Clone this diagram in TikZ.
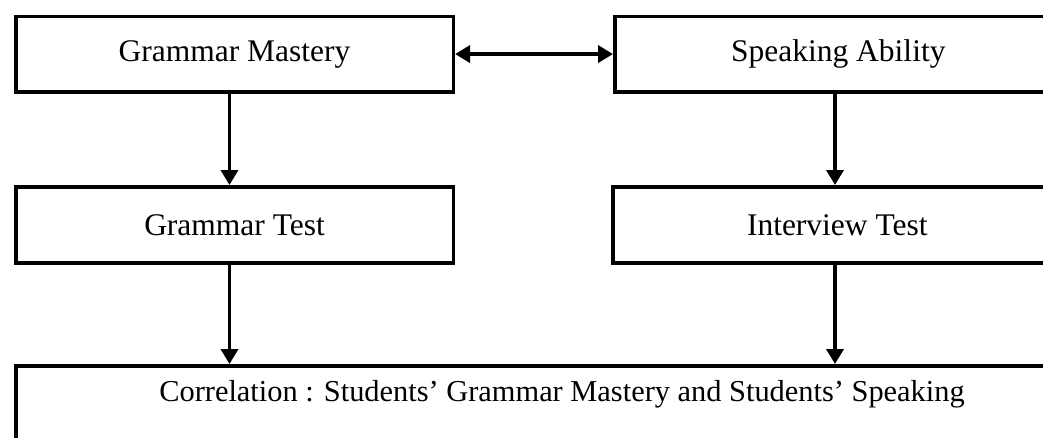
\documentclass[tikz,border=0pt]{standalone}
\usepackage{fontspec}
\setmainfont{Liberation Serif}
\usetikzlibrary{arrows.meta}
\begin{document}
\begin{tikzpicture}[x=1pt,y=-1pt,
  box/.style={draw=black,line width=3.6pt,rectangle,inner sep=0pt,font=\fontsize{31.5}{36}\selectfont},
  tip/.style={},
  conn/.style={line width=3.6pt,-{Triangle[length=15pt,width=17pt]}},
  conn2/.style={line width=3.6pt,{Triangle[length=15pt,width=17pt]}-{Triangle[length=15pt,width=17pt]}}]
\useasboundingbox (0,0) rectangle (1043,437);
\node[box,anchor=north west,minimum width=437.5pt,minimum height=75.5pt] (gm) at (14,14.5) {Grammar Mastery};
\node[box,anchor=north west,minimum width=447pt,minimum height=75.5pt] (sa) at (613,14.5) {Speaking Ability};
\node[box,anchor=north west,minimum width=437.5pt,minimum height=76pt] (gt) at (14,185) {Grammar Test};
\node[box,anchor=north west,minimum width=449pt,minimum height=76pt] (it) at (611,185) {Interview Test};
\node[box,anchor=north west,minimum width=1100pt,minimum height=120pt] (corr) at (14,364) {};
\node[font=\fontsize{30.4}{36}\selectfont,inner sep=0pt,anchor=base] (corrtext) at (562,401) {Correlation : Students’ Grammar Mastery and Students’ Speaking};
\draw[conn2] (gm.east) -- (sa.west);
\draw[conn] (gm.south -| 229.5,0) -- (gt.north -| 229.5,0);
\draw[conn] (sa.south -| 835,0) -- (it.north -| 835,0);
\draw[conn] (gt.south -| 229.5,0) -- (corr.north -| 229.5,0);
\draw[conn] (it.south -| 835,0) -- (corr.north -| 835,0);
\end{tikzpicture}
\end{document}
